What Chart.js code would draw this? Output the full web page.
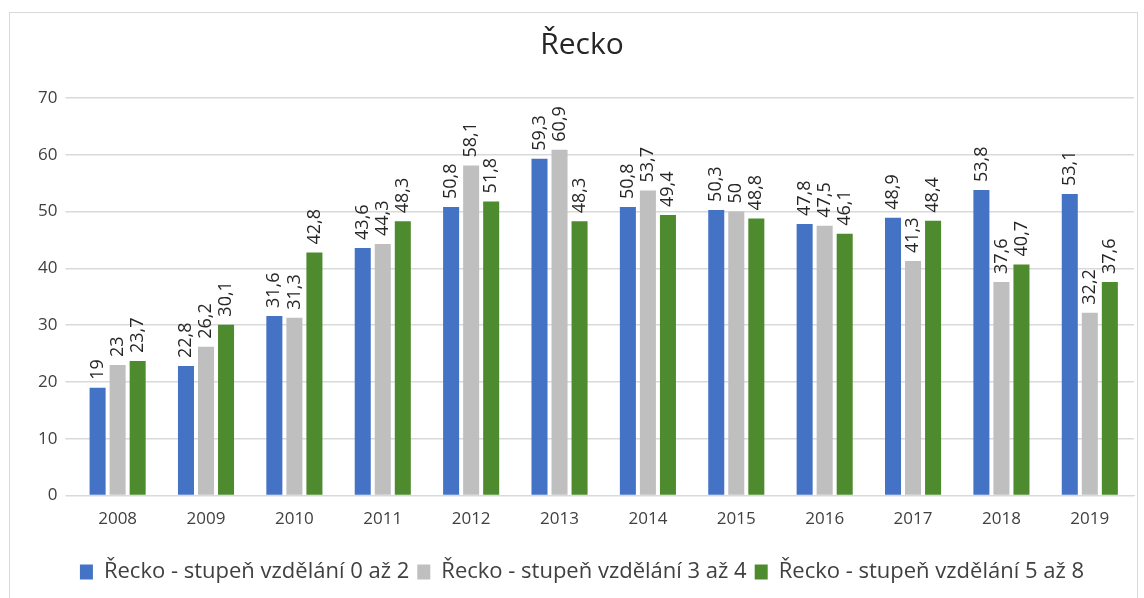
<!DOCTYPE html>
<html>
<head>
<meta charset="utf-8">
<script src="https://cdn.jsdelivr.net/npm/chart.js@4"></script>
<style>
  body { margin: 0; background: #fff; }
  #frame { position: absolute; left: 9px; top: 12px; width: 1127px; height: 600px; border: 1px solid #d9d9d9; }
  #wrap { position: absolute; left: 0; top: 0; width: 1144px; height: 598px; }
</style>
</head>
<body>
<div id="frame"></div>
<div id="wrap"><canvas id="myChart"></canvas></div>
<script>
var years = ['2008','2009','2010','2011','2012','2013','2014','2015','2016','2017','2018','2019'];
var stupen02 = [19, 22.8, 31.6, 43.6, 50.8, 59.3, 50.8, 50.3, 47.8, 48.9, 53.8, 53.1];
var stupen34 = [23, 26.2, 31.3, 44.3, 58.1, 60.9, 53.7, 50, 47.5, 41.3, 37.6, 32.2];
var stupen58 = [23.7, 30.1, 42.8, 48.3, 51.8, 48.3, 49.4, 48.8, 46.1, 48.4, 40.7, 37.6];

// popisky hodnot nad sloupci, otocene o 90 stupnu
var valueLabels = {
    id: 'valueLabels',
    afterDatasetsDraw: function(chart) {
        var ctx = chart.ctx;
        ctx.save();
        ctx.font = '18px "Open Sans"';
        ctx.fillStyle = '#262626';
        ctx.textAlign = 'left';
        ctx.textBaseline = 'middle';
        chart.data.datasets.forEach(function(ds, i) {
            chart.getDatasetMeta(i).data.forEach(function(bar, j) {
                var txt = String(ds.data[j]).replace('.', ',');
                ctx.save();
                ctx.translate(bar.x, bar.y - 8);
                ctx.rotate(-Math.PI / 2);
                ctx.fillText(txt, 0, 0);
                ctx.restore();
            });
        });
        ctx.restore();
    }
};

var ctx = document.getElementById('myChart').getContext('2d');
var chart = new Chart(ctx, {
    type: 'bar',
    data: {
        labels: years,
        datasets: [{
            label: 'Řecko - stupeň vzdělání 0 až 2',
            data: stupen02,
            backgroundColor: '#4472c4'
        }, {
            label: 'Řecko - stupeň vzdělání 3 až 4',
            data: stupen34,
            backgroundColor: '#bfbfbf'
        }, {
            label: 'Řecko - stupeň vzdělání 5 až 8',
            data: stupen58,
            backgroundColor: '#4e8a2e'
        }]
    },
    options: {
        responsive: true,
        maintainAspectRatio: false,
        animation: false,
        categoryPercentage: 0.68,
        barPercentage: 0.8,
        layout: { padding: { left: 30, right: 10, top: 27, bottom: 5 } },
        plugins: {
            title: {
                display: true,
                text: 'Řecko',
                color: '#262626',
                font: { family: 'Open Sans', size: 30, weight: 'normal' },
                padding: { top: 0, bottom: 35 }
            },
            legend: {
                position: 'bottom',
                labels: {
                    color: '#404040',
                    font: { family: 'Open Sans', size: 22 },
                    boxWidth: 13,
                    boxHeight: 15,
                    padding: 8
                }
            },
            tooltip: { enabled: false }
        },
        scales: {
            x: {
                grid: { display: false },
                border: { color: '#d9d9d9' },
                ticks: { color: '#404040', font: { family: 'Open Sans', size: 17 }, padding: 5 },
                afterFit: function(scale) { scale.height += 19; }
            },
            y: {
                min: 0,
                max: 70,
                ticks: { stepSize: 10, color: '#404040', font: { family: 'Open Sans', size: 17 }, padding: 8 },
                grid: { color: '#d9d9d9', lineWidth: 1.5 },
                border: { display: false }
            }
        }
    },
    plugins: [valueLabels]
});
</script>
</body>
</html>
